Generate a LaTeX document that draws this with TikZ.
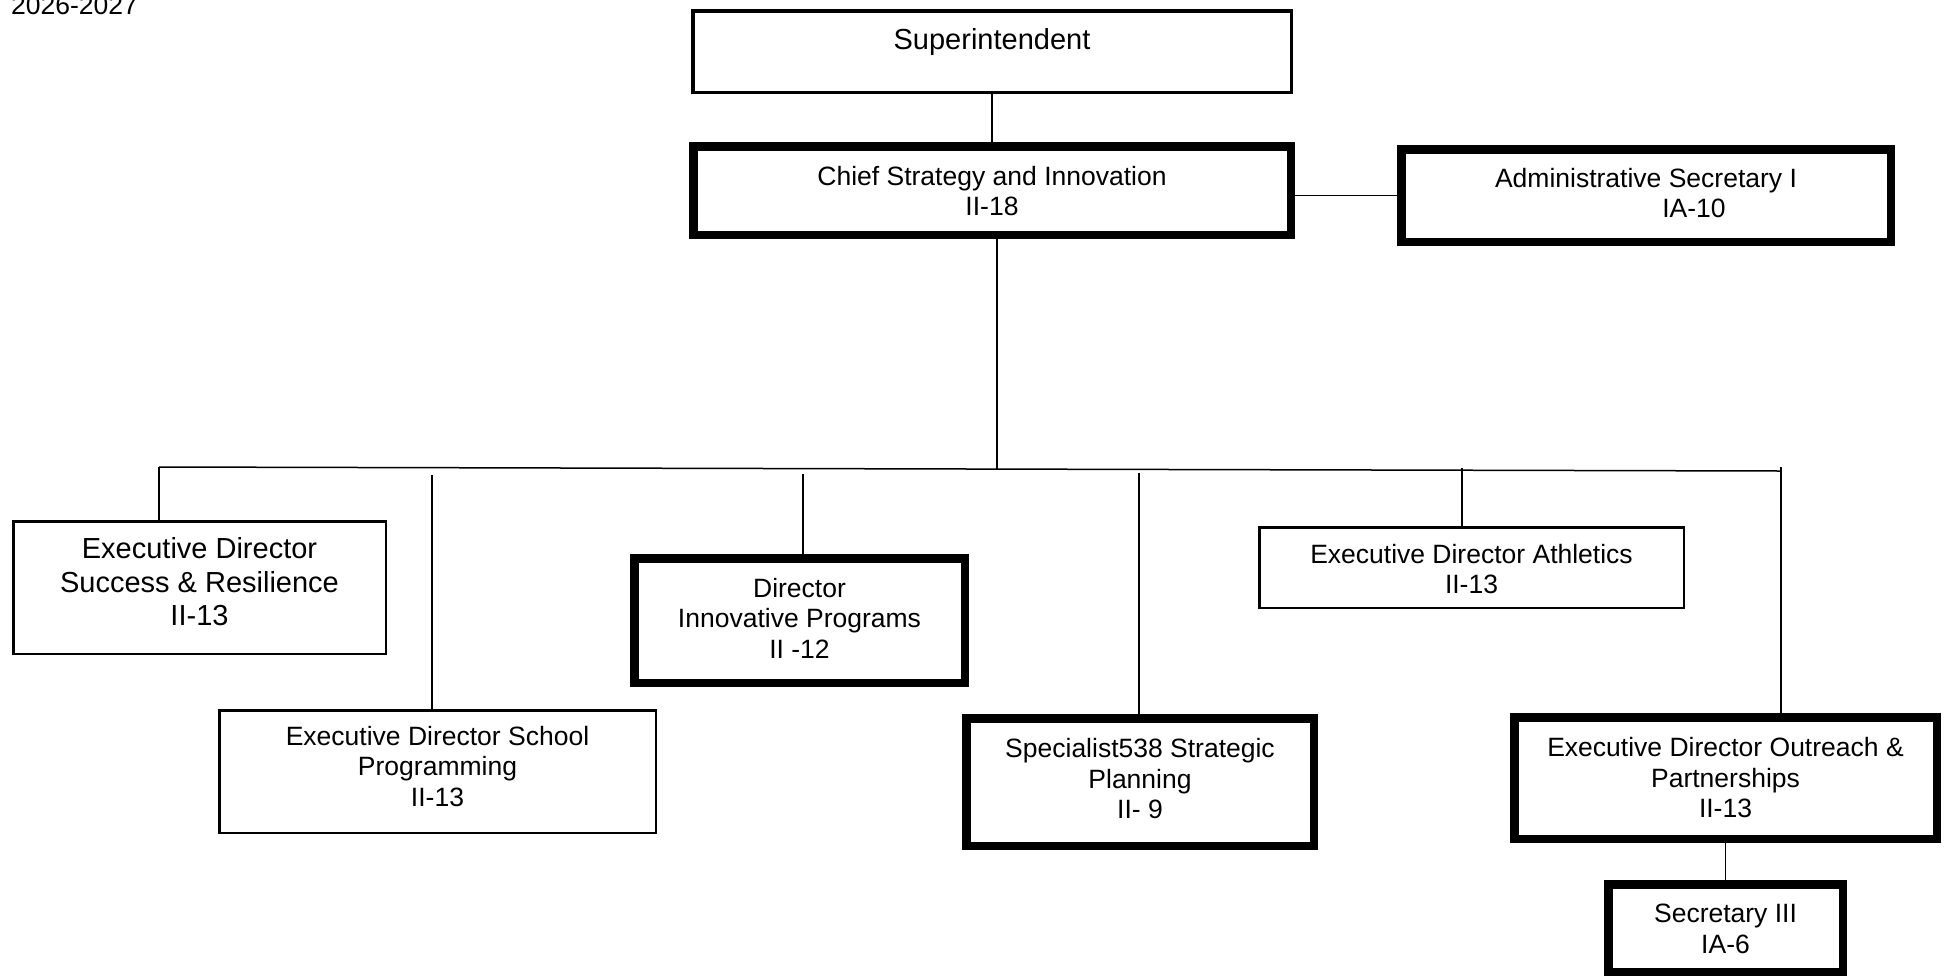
\documentclass[tikz,border=0pt]{standalone}
\usepackage{fontspec}
\setmainfont{Liberation Sans}
\usetikzlibrary{calc}
\tikzset{
  box/.style={draw=black, rectangle, inner sep=0pt, align=center, fill=white},
  thinbox/.style={box, line width=2.5pt},
  medbox/.style={box, line width=3.5pt},
  thickbox/.style={box, line width=8.5pt},
  txt/.style={font=\fontsize{26.5}{30.5}\selectfont, align=center, inner sep=0pt},
  bigtxt/.style={font=\fontsize{29}{33.5}\selectfont, align=center, inner sep=0pt},
  conn/.style={draw=black, line width=1.5pt},
}
\begin{document}
\begin{tikzpicture}[x=1pt,y=-1pt]
\useasboundingbox (0,0) rectangle (1946,978);
\fill[white] (0,0) rectangle (1946,978);

\node[anchor=base west, inner sep=0pt, font=\fontsize{26.5}{30}\selectfont] (year) at (11,14) {2026-2027};

% coordinates
\coordinate (busL) at (159,467);
\coordinate (busR) at (1781,471);
\coordinate (busM) at (997,469);
\coordinate (d2) at (432,475);
\coordinate (d3) at (803,474);
\coordinate (d4) at (1139,473);
\coordinate (d5) at (1462,468);
\coordinate (d6) at (1781,467);

% top
\node[medbox, minimum width=598.5pt, minimum height=81.5pt] (sup) at (992,51.5) {};
\node[bigtxt] (suptext) at (992,42) {Superintendent};
\node[thickbox, minimum width=597.5pt, minimum height=88.5pt] (chief) at (992,190.5) {};
\node[txt] (chieftext) at (992,191) {Chief Strategy and Innovation\\II-18};
\node[thickbox, minimum width=489.5pt, minimum height=92.5pt] (admin) at (1646,195.5) {};
\node[txt] (admintext) at (1646,193) {Administrative Secretary I\\\hspace*{96pt}IA-10};

% connectors (drawn before lower boxes)
\draw[conn] (sup.south) -- (chief.north);
\draw[conn] (chief.east |- admin.west) -- (admin.west);
\draw[conn] (chief.south -| busM) -- (busM);
\draw[conn] (busL) -- (busR);

% second row
\node[thinbox, minimum width=372.5pt, minimum height=132.5pt] (success) at (199.5,587.5) {};
\node[bigtxt] (successtext) at (199.5,582) {Executive Director\\Success \& Resilience\\II-13};
\node[thinbox, minimum width=436.5pt, minimum height=122.5pt] (school) at (437.5,771.5) {};
\node[txt] (schooltext) at (437.5,766.5) {Executive Director School\\Programming\\II-13};
\node[thickbox, minimum width=330.5pt, minimum height=124.5pt] (director) at (799.5,620.5) {};
\node[txt] (directortext) at (799.5,618) {Director\\Innovative Programs\\II -12};
\node[thickbox, minimum width=347.5pt, minimum height=127.5pt] (specialist) at (1140,782) {};
\node[txt] (specialisttext) at (1140,779) {Specialist538 Strategic\\Planning\\II- 9};
\node[thinbox, minimum width=424.5pt, minimum height=80.5pt] (athletics) at (1471.5,567.5) {};
\node[txt] (athleticstext) at (1471.5,569) {Executive Director Athletics\\II-13};
\node[thickbox, minimum width=422.5pt, minimum height=121.5pt] (outreach) at (1725.5,778) {};
\node[txt] (outreachtext) at (1725.5,778) {Executive Director Outreach \&\\Partnerships\\II-13};
\node[thickbox, minimum width=234.5pt, minimum height=87.5pt] (secretary) at (1725.5,928) {};
\node[txt] (secretarytext) at (1725.5,929) {Secretary III\\IA-6};

\draw[conn] (busL) -- (busL |- success.north);
\draw[conn] (d2) -- (d2 |- school.north);
\draw[conn] (d3) -- (d3 |- director.north);
\draw[conn] (d4) -- (d4 |- specialist.north);
\draw[conn] (d5) -- (d5 |- athletics.north);
\draw[conn] (d6) -- (d6 |- outreach.north);
\draw[conn] (outreach.south) -- (secretary.north);
\end{tikzpicture}
\end{document}
